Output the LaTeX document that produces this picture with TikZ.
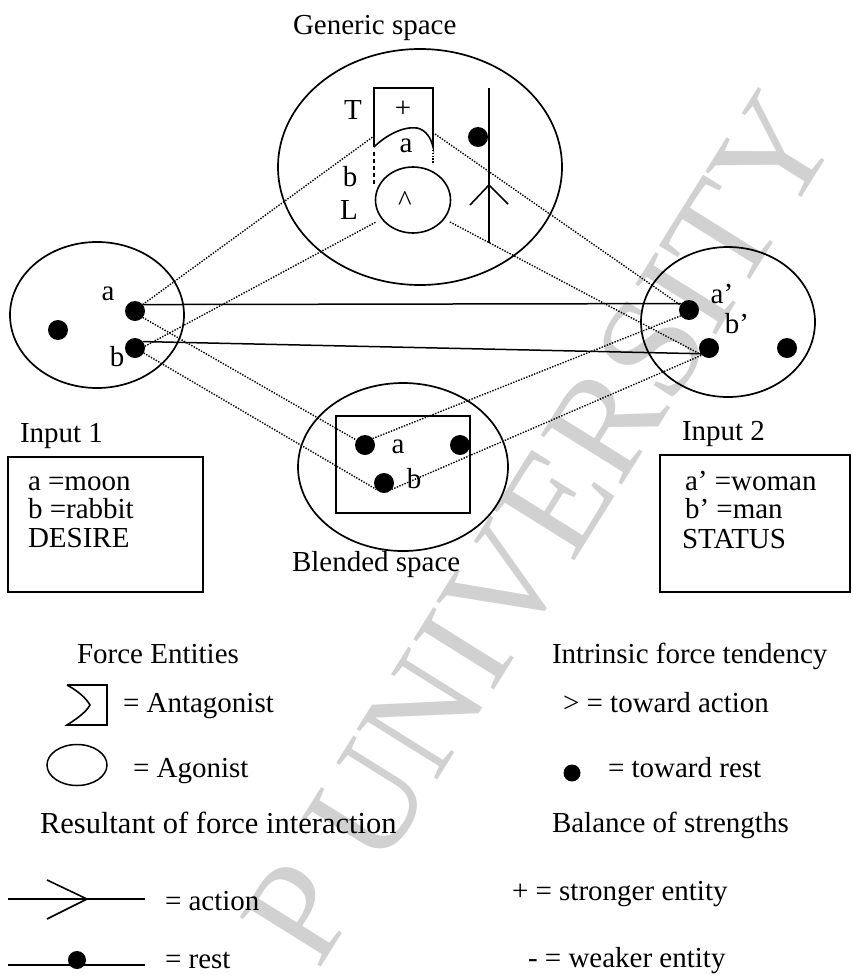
\documentclass[tikz,border=0pt]{standalone}
\usepackage{fontspec}
\setmainfont{Liberation Serif}
\usetikzlibrary{shapes.geometric}
\begin{document}
\begin{tikzpicture}[x=1pt,y=-1pt,
  every node/.style={font=\fontsize{29}{34}\selectfont, inner sep=0pt, outer sep=0pt},
  space/.style={draw, ellipse, line width=1.7pt},
  lbl/.style={anchor=base west},
  dot/.style={circle, fill=black, minimum size=20pt},
  link/.style={line width=1.4pt, dash pattern=on 1.4pt off 1.4pt},
  solidlink/.style={line width=1.5pt},
  frame/.style={draw, line width=1.6pt},
  stroke/.style={line width=1.6pt},
  wm/.style={text=black!18, font=\fontsize{145}{145}\selectfont}
]
\useasboundingbox (0,0) rectangle (852,977);

% background watermark
\node[wm, rotate=58] (mark) at (540,528) {P UNIVERSITY};

% the four mental spaces
\node[space, minimum width=284pt, minimum height=236pt] (generic) at (420,167) {};
\node[space, minimum width=174pt, minimum height=146pt] (input1) at (97,315) {};
\node[space, minimum width=174pt, minimum height=150pt] (input2) at (728,322) {};
\node[space, minimum width=210pt, minimum height=168pt] (blended) at (403,467) {};

\node[lbl] (tgen) at (293,34) {Generic space};
\node[lbl] (tblend) at (292,571) {Blended space};
\node[lbl] (tin1) at (20,442) {Input 1};
\node[lbl] (tin2) at (682,440) {Input 2};

% generic space: antagonist, agonist and resultant
\draw[stroke] (374,147) -- (374,88) -- (433,88) -- (433,147)
  .. controls (431,138) and (426,130) .. (417,128)
  .. controls (403,126) and (385,136) .. (374,147);
\coordinate (antL) at (374,136);
\coordinate (antR) at (435,134);
\draw[line width=1.3pt, dash pattern=on 4pt off 3pt] (374,152) -- (374,186);
\draw[link] (433,150) -- (433,164);
\node[draw, ellipse, line width=1.6pt, minimum width=75pt, minimum height=66pt] (agon) at (413,200) {};
\coordinate (agL) at (376,222);
\coordinate (agR) at (450,222);
\node[anchor=base] (caret) at (405,210) {\textasciicircum};
\node (gT) at (353,110) {T};
\node (gplus) at (403,109) {+};
\node (ga) at (406,146) {a};
\node (gb) at (350,177) {b};
\node (gL) at (349,210) {L};
\draw[line width=1.8pt] (489,88) -- (489,243);
\node[dot] (gdot) at (478,137) {};
\draw[stroke] (470,205) -- (489,185) -- (508,204);

% elements of the input spaces
\node[dot] (inA) at (135,311) {};
\node[dot] (inB) at (135,348) {};
\node[dot] (inC) at (58,330) {};
\node (la1) at (108,294) {a};
\node (lb1) at (117,357) {b};
\node[dot] (outA) at (689,310) {};
\node[dot] (outB) at (709,348) {};
\node[dot] (outC) at (787,348) {};
\node (la2) at (722,294) {a’};
\node (lb2) at (737,324) {b’};

% blended space
\node[draw, line width=1.5pt, minimum width=134pt, minimum height=97pt] (blrect) at (403,464.5) {};
\node[dot] (blA) at (365,445) {};
\node[dot] (blB) at (384,483) {};
\node[dot] (blC) at (460,445) {};
\node (la3) at (398,447) {a};
\node (lb3) at (414,479) {b};

% cross-space mappings
\draw[link] (inA.40) -- (antL);
\draw[link] (antR) -- (outA.150);
\draw[link] (inB.10) -- (agL);
\draw[link] (agR) -- (outB.225);
\draw[solidlink] (inA.40) -- (outA.140);
\draw[solidlink] (inB.40) -- (outB.215);
\draw[link] (inA.-40) -- (blA.150);
\draw[link] (inB.-30) -- (blB.220);
\draw[link] (blA.40) -- (outA.215);
\draw[link] (blB.-40) -- (outB.225);

% keys of the inputs
\node[frame, minimum width=195pt, minimum height=135pt] (box1) at (105.5,524.5) {};
\node[lbl] at (28,490) {a =moon};
\node[lbl] at (28,518) {b =rabbit};
\node[lbl] at (28,547) {DESIRE};
\node[frame, minimum width=190pt, minimum height=137pt] (box2) at (755,523.5) {};
\node[lbl] at (685,490) {a’ =woman};
\node[lbl] at (685,518) {b’ =man};
\node[lbl] at (682,548) {STATUS};

% legend, left column
\node[lbl] at (77,663) {Force Entities};
\draw[stroke] (67,685) -- (107,685) -- (107,725) -- (67,725)
  .. controls (78,718) and (86,712) .. (90,705)
  .. controls (86,698) and (78,691) .. (67,685);
\node[lbl] at (123,712) {= Antagonist};
\node[draw, ellipse, line width=1.5pt, minimum width=60pt, minimum height=41pt] (agkey) at (77,765) {};
\node[lbl] at (133,777) {= Agonist};
\node[lbl, font=\fontsize{30.5}{34}\selectfont] at (40,833) {Resultant of force interaction};
\draw[stroke] (8,899) -- (145,899);
\draw[stroke] (47,880) -- (87,899) -- (47,919);
\node[lbl] at (165,910) {= action};
\draw[stroke] (8,965) -- (145,965);
\node[dot, minimum size=18pt] (restdot) at (77,960) {};
\node[lbl] at (165,968) {= rest};

% legend, right column
\node[lbl] at (552,663) {Intrinsic force tendency};
\node[lbl] at (563,712) {> = toward action};
\node[dot, minimum size=17pt] (keydot) at (572,773) {};
\node[lbl] at (608,777) {= toward rest};
\node[lbl] at (552,832) {Balance of strengths};
\node[lbl] at (512,900) {+ = stronger entity};
\node[lbl] at (528,967) {- = weaker entity};
\end{tikzpicture}
\end{document}
